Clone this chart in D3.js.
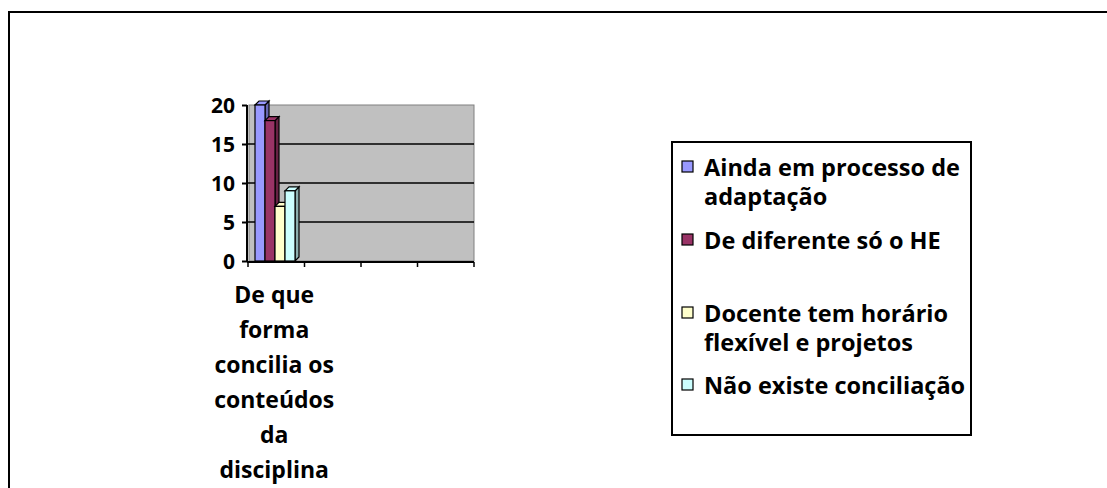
<!DOCTYPE html>
<html>
<head>
<meta charset="utf-8">
<script src="https://cdn.jsdelivr.net/npm/d3@7"></script>
<style>
  body { margin: 0; background: #fff; }
  text { font-family: "Open Sans", "Noto Sans", sans-serif; font-weight: bold; fill: #000; }
</style>
</head>
<body>
<div id="chart"></div>
<script>
// data
var categories = ["cat1", "cat2", "cat3", "cat4"];
var categoryLines = [["De que", "forma", "concilia os", "conteúdos", "da", "disciplina"], [], [], []];
var seriesNames = ["Ainda em processo de adaptação", "De diferente só o HE",
  "Docente tem horário flexível e projetos", "Não existe conciliação"];
var legendLines = [["Ainda em processo de", "adaptação"], ["De diferente só o HE"],
  ["Docente tem horário", "flexível e projetos"], ["Não existe conciliação"]];
var seriesValues = [20, 18, 7, 9]; // only first category has values
var yTicks = [0, 5, 10, 15, 20];
var colors = ["#9999FF", "#993366", "#FFFFCC", "#CCFFFF"];
var sideColors = ["#6666B0", "#662244", "#B0B08C", "#8CB0B0"];

var svgWidth = 1107;
var svgHeight = 488;

var svg = d3.select("#chart")
  .append("svg")
  .attr("width", svgWidth)
  .attr("height", svgHeight);

// outer chart border
svg.append("rect")
  .attr("x", 9)
  .attr("y", 12)
  .attr("width", svgWidth + 10)
  .attr("height", svgHeight + 10)
  .attr("fill", "none")
  .attr("stroke", "#000")
  .attr("stroke-width", 2);

var plot = { left: 248, right: 474, top: 105, bottom: 261 };
var depth = 4;

var x = d3.scaleBand()
  .domain(categories)
  .range([plot.left, plot.right]);

var y = d3.scaleLinear()
  .domain([0, 20])
  .range([plot.bottom, plot.top]);

// gray back wall
svg.append("rect")
  .attr("x", plot.left + 1)
  .attr("y", plot.top)
  .attr("width", plot.right - plot.left - 1)
  .attr("height", plot.bottom - plot.top)
  .attr("fill", "#C0C0C0")
  .attr("stroke", "#808080")
  .attr("stroke-width", 1);

// gridlines
svg.append("g")
  .selectAll("line")
  .data(yTicks.slice(1, -1))
  .enter()
  .append("line")
  .attr("x1", plot.left)
  .attr("x2", plot.right)
  .attr("y1", d => y(d))
  .attr("y2", d => y(d))
  .attr("stroke", "#000")
  .attr("stroke-width", 1.5);

// bars with a little 3d depth
var band = x("cat1");
var barW = 10;
var barStart = band + 7;
var bars = svg.append("g")
  .selectAll("g")
  .data(seriesValues)
  .enter()
  .append("g");

bars.append("path")
  .attr("d", (d, i) => {
    var x0 = barStart + i * barW + barW, y0 = y(d);
    return `M${x0},${y0} L${x0 + depth},${y0 - depth} L${x0 + depth},${plot.bottom - depth} L${x0},${plot.bottom} Z`;
  })
  .attr("fill", (d, i) => sideColors[i])
  .attr("stroke", "#000")
  .attr("stroke-width", 1.2);

bars.append("path")
  .attr("d", (d, i) => {
    var x0 = barStart + i * barW, y0 = y(d);
    return `M${x0},${y0} L${x0 + depth},${y0 - depth} L${x0 + barW + depth},${y0 - depth} L${x0 + barW},${y0} Z`;
  })
  .attr("fill", (d, i) => colors[i])
  .attr("stroke", "#000")
  .attr("stroke-width", 1.2);

bars.append("rect")
  .attr("x", (d, i) => barStart + i * barW)
  .attr("y", d => y(d))
  .attr("width", barW)
  .attr("height", d => plot.bottom - y(d))
  .attr("fill", (d, i) => colors[i])
  .attr("stroke", "#000")
  .attr("stroke-width", 1.2);

// y axis
var yAxis = svg.append("g")
  .attr("transform", `translate(${plot.left - 1}, 0)`)
  .call(d3.axisLeft(y).tickValues(yTicks).tickSize(5).tickPadding(7));
yAxis.select(".domain").attr("stroke-width", 2).attr("d", `M0,${plot.top}V${plot.bottom}`);
yAxis.selectAll(".tick line").attr("stroke-width", 2);
yAxis.selectAll("text")
  .attr("dy", "0.36em")
  .style("font-size", "21px")
  .style("font-family", "'Open Sans', sans-serif")
  .style("font-weight", "bold");

// x axis
var xAxis = svg.append("g")
  .attr("transform", `translate(0, ${plot.bottom + 1})`)
  .call(d3.axisBottom(x).tickSize(5).tickFormat(""));
xAxis.select(".domain").attr("stroke-width", 2).attr("d", `M${plot.left - 1},0H${plot.right}`);
xAxis.selectAll(".tick line")
  .attr("transform", `translate(${-x.bandwidth() / 2},0)`)
  .attr("stroke-width", 1.5);
xAxis.append("line")
  .attr("x1", plot.right).attr("x2", plot.right)
  .attr("y1", 0).attr("y2", 5)
  .attr("stroke", "#000").attr("stroke-width", 1.5);

// category label (wrapped)
categories.forEach(function(c, i) {
  var t = svg.append("text")
    .attr("text-anchor", "middle")
    .style("font-size", "23px");
  categoryLines[i].forEach(function(line, j) {
    t.append("tspan")
      .attr("x", x(c) + x.bandwidth() / 2 - 2)
      .attr("y", 303 + j * 35)
      .text(line);
  });
});

// legend
svg.append("rect")
  .attr("x", 672)
  .attr("y", 142)
  .attr("width", 299)
  .attr("height", 293)
  .attr("fill", "#fff")
  .attr("stroke", "#000")
  .attr("stroke-width", 2);

var legendY = [176, 249, 322, 394];
var legend = svg.append("g")
  .selectAll("g")
  .data(seriesNames)
  .enter()
  .append("g")
  .attr("transform", (d, i) => `translate(682, ${legendY[i]})`);

legend.append("rect")
  .attr("x", 0)
  .attr("y", -15)
  .attr("width", 11)
  .attr("height", 11)
  .attr("fill", (d, i) => colors[i])
  .attr("stroke", "#000")
  .attr("stroke-width", 1.2);

legend.append("text")
  .style("font-size", "23.5px")
  .each(function(d, i) {
    var t = d3.select(this);
    legendLines[i].forEach(function(line, j) {
      t.append("tspan")
        .attr("x", 22)
        .attr("y", j * 29)
        .text(line);
    });
  });
</script>
</body>
</html>
